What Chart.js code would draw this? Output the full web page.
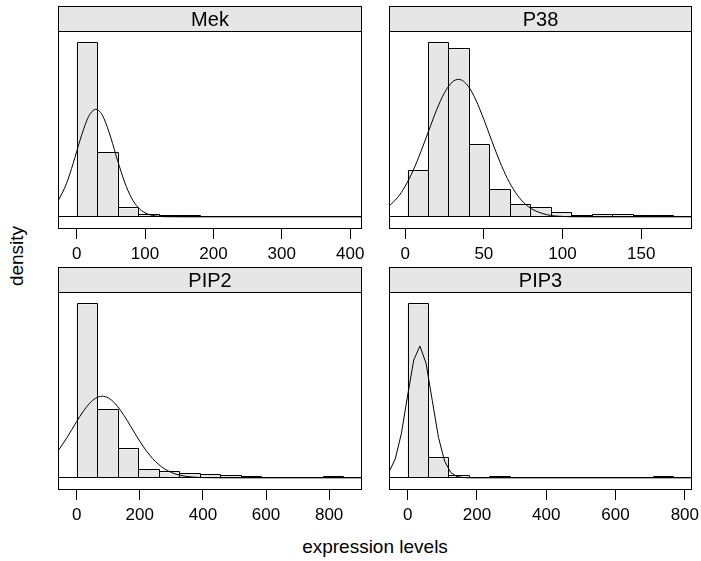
<!DOCTYPE html>
<html><head><meta charset="utf-8">
<script src="https://cdn.jsdelivr.net/npm/chart.js@4.4.1/dist/chart.umd.min.js"></script>
<style>
html,body{margin:0;padding:0;background:#fff;}
#wrap{position:relative;width:701px;height:561px;overflow:hidden;font-family:'Liberation Sans',Arial,Helvetica,sans-serif;}
canvas{position:absolute;}
.lab{position:absolute;color:#000;font-size:19px;white-space:nowrap;text-align:center;}
#ylab{left:-33px;top:246px;width:100px;line-height:20px;transform:rotate(-90deg);}
#xlab{left:225px;top:536px;width:300px;line-height:22px;}
</style></head><body>
<div id="wrap">
<div class="lab" id="ylab">density</div>
<div class="lab" id="xlab">expression levels</div>
</div>
<script>
// ---------- data ----------
const panelNames = ['Mek', 'P38', 'PIP2', 'PIP3'];

const mekBreaks = [0, 30, 60, 90, 120, 150, 180, 210, 240, 270, 300, 330, 360, 390];
const mekDensity = [0.02310, 0.00852, 0.00111, 0.000227, 0.000067, 0.000094, 0.00004, 0.00004, 0.000027, 0.000013, 0.000013, 0.00004, 0.00004];
const mekCurveX = [-27.3, -15, -5, 5, 15, 20, 28, 35, 40, 50, 60, 70, 80, 90, 100, 115, 130, 160, 250, 417.3];
const mekCurveY = [0.00208, 0.00440, 0.00715, 0.01021, 0.01285, 0.01374, 0.01431, 0.01387, 0.01306, 0.01051, 0.00745, 0.00465, 0.00255, 0.00123, 0.00053, 0.00012, 0.00002, 0, 0, 0];
const mekTicks = [0, 100, 200, 300, 400];
const mekLimits = [-27.3, 417.3];

const p38Breaks = [1.5, 14.5, 27.5, 40.5, 53.5, 66.5, 79.5, 92.5, 105.5, 118.5, 131.5, 144.5, 157.5, 170.5];
const p38Density = [0.006894, 0.025881, 0.024982, 0.010685, 0.004046, 0.001798, 0.001304, 0.000599, 0.000075, 0.000255, 0.000255, 0.000075, 0.000075];
const p38CurveX = [-10.3, -5, 0, 5, 10, 15, 20, 25, 30, 34, 40, 45, 50, 55, 60, 65, 70, 75, 80, 90, 100, 110, 125, 182.3];
const p38CurveY = [0.00159, 0.00283, 0.00456, 0.00689, 0.00973, 0.01287, 0.01595, 0.01850, 0.02010, 0.02049, 0.01948, 0.01737, 0.01451, 0.01135, 0.00831, 0.00570, 0.00366, 0.00220, 0.00124, 0.00032, 0.00006, 0.00001, 0, 0];
const p38Ticks = [0, 50, 100, 150];
const p38Limits = [-10.3, 182.3];

const pip2Breaks = [0, 65, 130, 195, 260, 325, 390, 455, 520, 585, 650, 715, 780, 845];
const pip2Density = [0.009046, 0.003556, 0.001480, 0.000434, 0.000288, 0.000225, 0.000157, 0.0000941, 0.0000366, 0.0000157, 0.0000105, 0.0000105, 0.0000314];
const pip2CurveX = [-59, -30, 0, 20, 40, 60, 81, 100, 120, 140, 160, 180, 200, 220, 240, 260, 280, 300, 330, 360, 400, 450, 600, 904];
const pip2CurveY = [0.001402, 0.002117, 0.002933, 0.003444, 0.003865, 0.004146, 0.004251, 0.004165, 0.0039, 0.003491, 0.002986, 0.002441, 0.001907, 0.001425, 0.001017, 0.000694, 0.000452, 0.000282, 0.000127, 0.000052, 0.0000134, 0.000002, 0, 0];
const pip2Ticks = [0, 200, 400, 600, 800];
const pip2Limits = [-59.15, 904.15];

const pip3Breaks = [0, 59, 118, 177, 236, 295, 354, 413, 472, 531, 590, 649, 708, 767];
const pip3Density = [0.014982, 0.001671, 0.00013, 0.0000173, 0.0000433, 0.0000087, 0.0000087, 0.0000087, 0.0000087, 0.0000087, 0.0000087, 0.0000087, 0.0000433];
const pip3CurveX = [-53.7, -35.9, -18, -0.2, 17.7, 35.5, 53.3, 71.2, 89, 106.9, 124.7, 142.5, 160.4, 178.2, 196.1, 820.7];
const pip3CurveY = [0.00052, 0.00160, 0.00381, 0.00706, 0.01016, 0.01137, 0.00988, 0.00667, 0.00350, 0.00143, 0.00045, 0.00011, 0.00002, 0, 0, 0];
const pip3Ticks = [0, 200, 400, 600, 800];
const pip3Limits = [-53.7, 820.7];

// ---------- layout ----------
const FONT = "'Liberation Sans', Arial, Helvetica, sans-serif";
const M = 20;      // horizontal canvas margin
const XAXIS_H = 42;
const panels = [
  {name: panelNames[0], breaks: mekBreaks, dens: mekDensity, cx: mekCurveX, cy: mekCurveY, ticks: mekTicks, lim: mekLimits, smooth: true,
   left: 58, right: 362, stripTop: 6, plotTop: 31, plotBottom: 229},
  {name: panelNames[1], breaks: p38Breaks, dens: p38Density, cx: p38CurveX, cy: p38CurveY, ticks: p38Ticks, lim: p38Limits, smooth: true,
   left: 389, right: 692, stripTop: 6, plotTop: 31, plotBottom: 229},
  {name: panelNames[2], breaks: pip2Breaks, dens: pip2Density, cx: pip2CurveX, cy: pip2CurveY, ticks: pip2Ticks, lim: pip2Limits, smooth: true,
   left: 58, right: 362, stripTop: 267, plotTop: 292, plotBottom: 490},
  {name: panelNames[3], breaks: pip3Breaks, dens: pip3Density, cx: pip3CurveX, cy: pip3CurveY, ticks: pip3Ticks, lim: pip3Limits, smooth: false,
   left: 389, right: 692, stripTop: 267, plotTop: 292, plotBottom: 490}
];

const latticePlugin = {
  id: 'lattice',
  beforeDraw(chart, args, o) {
    const {ctx, chartArea: a} = chart;
    const st = o.stripTop;
    ctx.save();
    ctx.fillStyle = '#e6e6e6';
    ctx.fillRect(a.left, st, a.right - a.left, a.top - st);
    ctx.strokeStyle = '#000';
    ctx.lineWidth = 1;
    ctx.strokeRect(a.left + 0.5, st + 0.5, a.right - a.left - 1, a.top - st);
    ctx.fillStyle = '#000';
    ctx.font = '20px ' + FONT;
    ctx.textAlign = 'center';
    ctx.textBaseline = 'middle';
    ctx.fillText(o.label, (a.left + a.right) / 2, (st + a.top) / 2 + 1.5);
    ctx.restore();
  },
  afterDatasetDraw(chart, args) {
    const ds = chart.data.datasets[args.index];
    if (ds.type !== 'bar') return;
    const {ctx, chartArea: a} = chart;
    const meta = chart.getDatasetMeta(args.index);
    ctx.save();
    ctx.strokeStyle = '#000';
    ctx.lineWidth = 1;
    const yb = Math.round(chart.scales.y.getPixelForValue(0)) - 0.5;
    ctx.beginPath();
    ctx.moveTo(a.left, yb);
    ctx.lineTo(a.right, yb);
    ctx.stroke();
    meta.data.forEach(el => {
      const l = Math.round(el.x - el.width / 2) + 0.5;
      const r = Math.round(el.x + el.width / 2) + 0.5;
      const t = Math.round(el.y) - 0.5;
      ctx.beginPath();
      ctx.moveTo(l, yb);
      ctx.lineTo(l, Math.min(t, yb));
      ctx.lineTo(r, Math.min(t, yb));
      ctx.lineTo(r, yb);
      ctx.stroke();
    });
    ctx.restore();
  },
  afterDraw(chart) {
    const {ctx, chartArea: a} = chart;
    ctx.save();
    ctx.strokeStyle = '#000';
    ctx.lineWidth = 1;
    ctx.strokeRect(a.left + 0.5, a.top + 0.5, a.right - a.left - 1, a.bottom - a.top - 1);
    ctx.restore();
  }
};

const wrap = document.getElementById('wrap');
panels.forEach(p => {
  const cv = document.createElement('canvas');
  const W = p.right - p.left + 2 * M;
  const H = p.plotBottom - p.stripTop + 1 + XAXIS_H;
  cv.width = W; cv.height = H;
  cv.style.left = (p.left - M) + 'px';
  cv.style.top = (p.stripTop - 1) + 'px';
  cv.style.width = W + 'px'; cv.style.height = H + 'px';
  wrap.appendChild(cv);

  const centers = p.dens.map((_, i) => (p.breaks[i] + p.breaks[i + 1]) / 2);
  const ymax = Math.max(...p.dens, ...p.cy);

  new Chart(cv, {
    type: 'bar',
    data: {
      datasets: [
        {
          type: 'line',
          data: p.cx.map((x, i) => ({x: x, y: p.cy[i]})),
          borderColor: '#000', borderWidth: 1, pointRadius: 0, fill: false,
          tension: 0, cubicInterpolationMode: p.smooth ? 'monotone' : 'default'
        },
        {
          type: 'bar',
          data: centers.map((x, i) => ({x: x, y: p.dens[i]})),
          backgroundColor: '#e6e6e6', borderWidth: 0, inflateAmount: 0,
          barPercentage: 1, categoryPercentage: 1
        }
      ]
    },
    options: {
      responsive: false, animation: false, devicePixelRatio: 1,
      layout: {padding: {left: M, right: M, top: p.plotTop - p.stripTop + 1, bottom: 0}},
      plugins: {legend: {display: false}, tooltip: {enabled: false}, title: {display: false},
        lattice: {stripTop: 1, label: p.name}},
      scales: {
        x: {
          type: 'linear', min: p.lim[0], max: p.lim[1], offset: false,
          afterBuildTicks: s => { s.ticks = p.ticks.map(v => ({value: v})); },
          afterFit: s => { s.height = XAXIS_H; s.paddingLeft = 0; s.paddingRight = 0; },
          ticks: {color: '#000', font: {size: 17, family: FONT}, padding: 5, maxRotation: 0, autoSkip: false,
            callback: v => String(v)},
          grid: {display: true, offset: false, drawOnChartArea: false, drawTicks: true, tickLength: 10, color: '#000', lineWidth: 1},
          border: {display: false}
        },
        y: {
          type: 'linear', display: false, min: -0.07 * ymax, max: 1.07 * ymax
        }
      }
    },
    plugins: [latticePlugin]
  });
});
</script>
</body></html>
